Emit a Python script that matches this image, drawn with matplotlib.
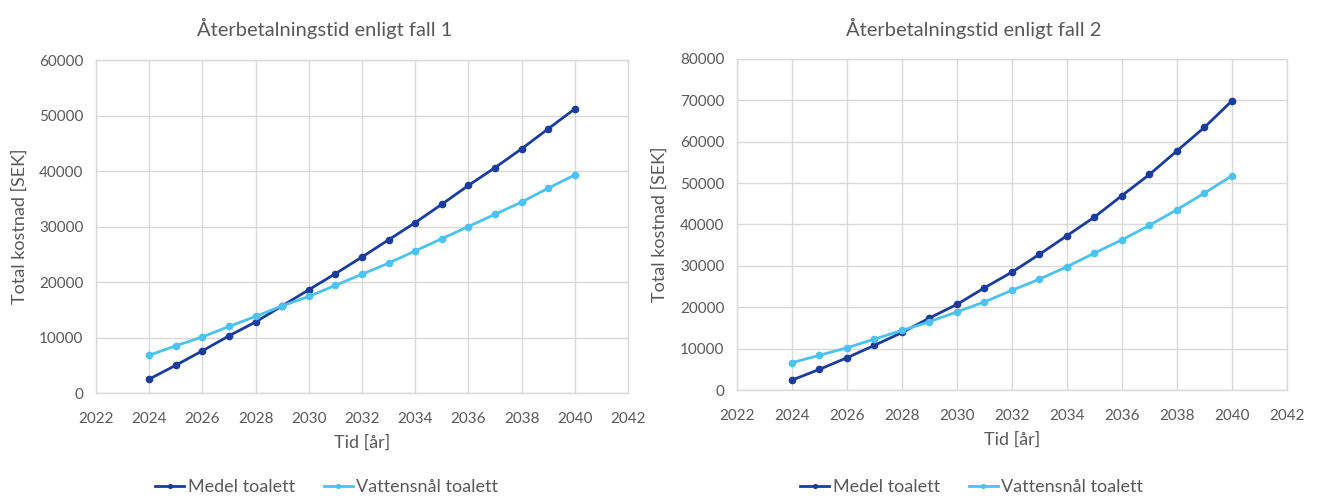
import matplotlib
matplotlib.use("Agg")
import matplotlib.pyplot as plt
from matplotlib.ticker import MultipleLocator

years = list(range(2024, 2041))

medel_fall1 = [2500, 5000, 7600, 10300, 12800, 15700, 18600, 21500, 24500,
               27600, 30700, 34000, 37400, 40600, 44000, 47600, 51200]
vatten_fall1 = [6800, 8500, 10100, 12000, 13800, 15700, 17400, 19400, 21400,
                23400, 25600, 27800, 30000, 32200, 34400, 36900, 39300]

medel_fall2 = [2400, 5000, 7800, 10800, 13900, 17400, 20700, 24700, 28500,
               32800, 37300, 41800, 47000, 52100, 57800, 63500, 69900]
vatten_fall2 = [6600, 8400, 10200, 12300, 14400, 16500, 18900, 21300, 24100,
                26800, 29800, 33100, 36300, 39800, 43600, 47600, 51800]

titles = ["Återbetalningstid enligt fall 1", "Återbetalningstid enligt fall 2"]
series_names = ["Medel toalett", "Vattensnål toalett"]
xlabel = "Tid [år]"
ylabel = "Total kostnad [SEK]"

DARK = "#1a3c9f"
LIGHT = "#4cc2f0"
TEXT = "#595959"
GRID = "#d9d9d9"

plt.rcParams['font.family'] = ['Lato', 'DejaVu Sans']

W, H = 1321, 498
fig = plt.figure(figsize=(W / 100, H / 100), dpi=100)

panels = [
    dict(rect=(96, 60, 628, 393), ymax=60000, data=(medel_fall1, vatten_fall1),
         title=titles[0], tx=325, ylx=20, legx=(155, 325)),
    dict(rect=(737, 59, 1287, 390), ymax=80000, data=(medel_fall2, vatten_fall2),
         title=titles[1], tx=974, ylx=660, legx=(800, 970)),
]

for p in panels:
    x0, y0, x1, y1 = p["rect"]
    ax = fig.add_axes([x0 / W, 1 - y1 / H, (x1 - x0) / W, (y1 - y0) / H])
    m, v = p["data"]
    l1, = ax.plot(years, m, color=DARK, lw=2, marker="o", ms=4.5, label=series_names[0])
    l2, = ax.plot(years, v, color=LIGHT, lw=2, marker="o", ms=4.5, label=series_names[1])
    ax.set_xlim(2022, 2042)
    ax.set_ylim(0, p["ymax"])
    ax.xaxis.set_major_locator(MultipleLocator(2))
    ax.yaxis.set_major_locator(MultipleLocator(10000))
    ax.grid(True, color=GRID, lw=1)
    ax.set_axisbelow(True)
    for s in ax.spines.values():
        s.set_color(GRID)
        s.set_linewidth(1)
    ax.tick_params(length=0, colors=TEXT, labelsize=11)
    ax.tick_params(axis="x", pad=14)
    ax.tick_params(axis="y", pad=9)
    ax.set_xlabel(xlabel, fontsize=13, color=TEXT, labelpad=6)
    fig.text(p["ylx"] / W, 1 - ((y0 + y1) / 2) / H, ylabel, rotation=90,
             ha="center", va="center", fontsize=13, color=TEXT)
    fig.text(p["tx"] / W, 1 - 28 / H, p["title"], ha="center", va="center",
             fontsize=14.5, color=TEXT)
    leg = fig.legend([l1, l2], series_names, loc="center left",
                     bbox_to_anchor=(p["legx"][0] / W - 0.012, 1 - 487 / H),
                     ncol=2, frameon=False, fontsize=13, labelcolor=TEXT,
                     handlelength=1.6, handletextpad=0.2, columnspacing=1.6,
                     markerscale=0.6)

fig.savefig("out.png", dpi=100)
